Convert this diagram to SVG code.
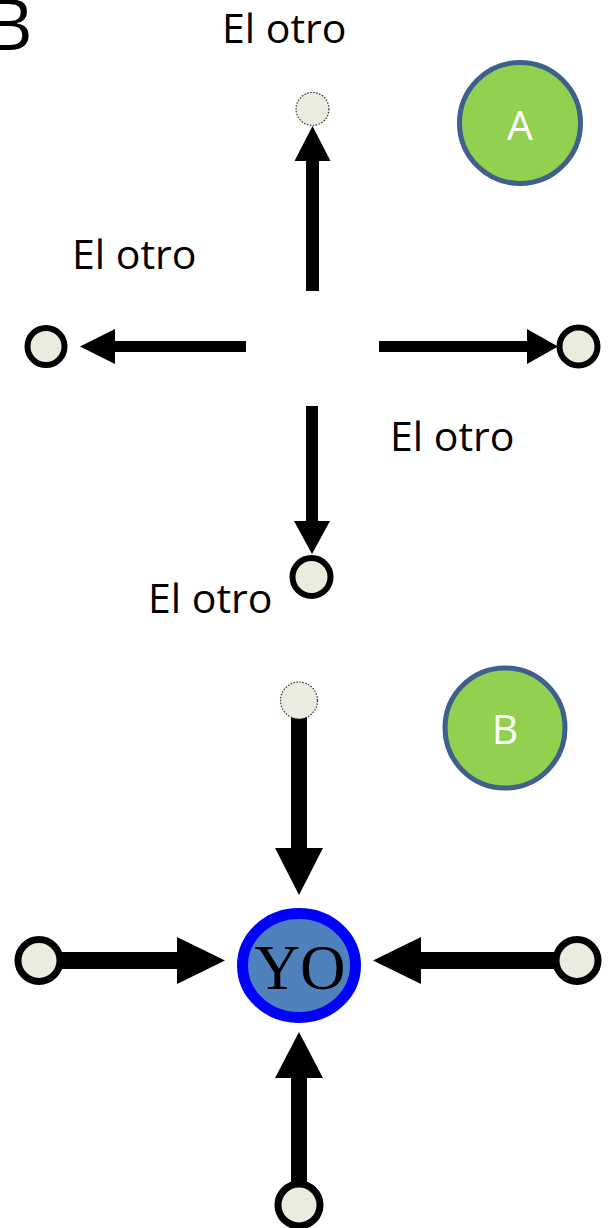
<svg xmlns="http://www.w3.org/2000/svg" width="609" height="1228" viewBox="0 0 609 1228">
  <style>
    .lbl { font-family: "Open Sans", "Liberation Sans", sans-serif; font-size: 41px; fill: #000; }
    .badge { fill: #92d050; stroke: #3f5f8c; stroke-width: 5; }
    .badgetxt { font-family: "Open Sans", "Liberation Sans", sans-serif; font-size: 41px; fill: #fff; text-anchor: middle; }
    .dot { fill: #ecebe0; stroke: #333; stroke-width: 1.2; stroke-dasharray: 1.5 1.5; }
    .ring { fill: #ecebe0; stroke: #000; stroke-width: 6; }
    .ringb { fill: #ecebe0; stroke: #000; stroke-width: 7; }
    .arrow { fill: #000; }
  </style>
  <rect width="609" height="1228" fill="#fff"/>
  <text x="-14" y="50" font-family="Open Sans, Liberation Sans, sans-serif" font-size="72" fill="#000">B</text>

  <g id="connectors">
    <!-- Section A: outward arrows -->
    <polygon class="arrow" points="306,291 306,161 294.5,161 312.5,126 330.5,161 319,161 319,291"/>
    <polygon class="arrow" points="246,341 115,341 115,329 80,346.5 115,364 115,352 246,352"/>
    <polygon class="arrow" points="379,341 527,341 527,329 558,346.5 527,364 527,352 379,352"/>
    <polygon class="arrow" points="306,406 306,521 294,521 312,554 330,521 318,521 318,406"/>
    <!-- Section B: inward arrows -->
    <polygon class="arrow" points="291,715 291,848 275,848 299,895 323,848 307,848 307,715"/>
    <polygon class="arrow" points="58,952 177,952 177,937 225,960.5 177,984 177,969 58,969"/>
    <polygon class="arrow" points="558,952 421,952 421,937 373,960.5 421,984 421,969 558,969"/>
    <polygon class="arrow" points="291,1185 291,1078 275,1078 299,1032 323,1078 307,1078 307,1185"/>
  </g>

  <g id="label-top"><text class="lbl" x="222" y="43">El otro</text></g>
  <g id="label-left"><text class="lbl" x="72" y="269">El otro</text></g>
  <g id="label-right"><text class="lbl" x="390" y="451">El otro</text></g>
  <g id="label-bottom"><text class="lbl" x="148" y="613">El otro</text></g>

  <g id="otro-a-top"><circle class="dot" cx="312.5" cy="109" r="16.5"/></g>
  <g id="otro-a-left"><circle class="ring" cx="46" cy="346.5" r="18.5"/></g>
  <g id="otro-a-right"><circle class="ring" cx="578.5" cy="346.5" r="19"/></g>
  <g id="otro-a-bottom"><ellipse class="ring" cx="311.5" cy="577" rx="19" ry="19"/></g>

  <g id="badge-a">
    <circle class="badge" cx="520" cy="123" r="60.5"/>
    <text class="badgetxt" x="520" y="140">A</text>
  </g>

  <g id="otro-b-top"><circle class="dot" cx="299" cy="700.5" r="18.5"/></g>
  <g id="otro-b-left"><circle class="ringb" cx="39" cy="960.5" r="21"/></g>
  <g id="otro-b-right"><circle class="ringb" cx="577" cy="960.5" r="21"/></g>
  <g id="otro-b-bottom"><circle class="ringb" cx="299" cy="1205" r="21"/></g>

  <g id="badge-b">
    <circle class="badge" cx="505" cy="728" r="60"/>
    <text class="badgetxt" x="505" y="744">B</text>
  </g>

  <g id="yo">
    <ellipse cx="299" cy="965.5" rx="56.5" ry="52" fill="#4f81bd" stroke="#0000ff" stroke-width="11"/>
    <text x="300" y="989" font-family="Liberation Serif, serif" font-size="63" fill="#000" text-anchor="middle">YO</text>
  </g>
</svg>
